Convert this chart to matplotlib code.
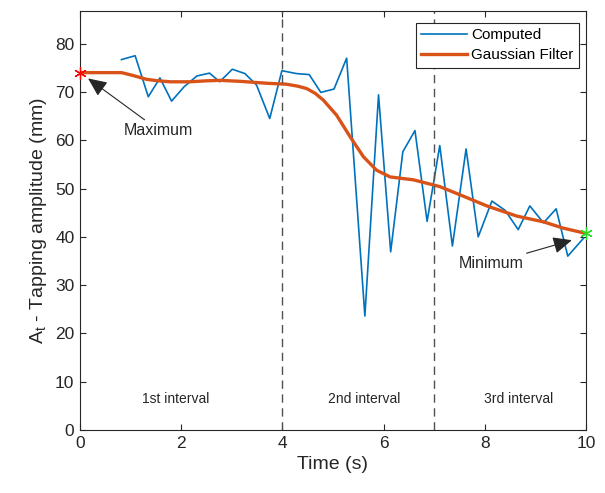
import matplotlib.pyplot as plt

plt.rcParams['font.family'] = ['Liberation Sans', 'DejaVu Sans']
plt.rcParams['mathtext.fontset'] = 'custom'
plt.rcParams['mathtext.rm'] = 'Liberation Sans'
plt.rcParams['mathtext.it'] = 'Liberation Sans'

# computed tapping amplitude
time_computed = [0.82, 1.09, 1.35, 1.58, 1.81, 2.06, 2.31, 2.56, 2.76, 3.01, 3.26, 3.49,
                 3.75, 3.99, 4.28, 4.53, 4.76, 5.02, 5.27, 5.63, 5.90, 6.14, 6.38, 6.62,
                 6.86, 7.11, 7.36, 7.63, 7.87, 8.14, 8.40, 8.66, 8.89, 9.16, 9.41, 9.64, 9.95]
amp_computed = [76.7, 77.5, 69.0, 72.9, 68.1, 71.1, 73.3, 73.9, 72.1, 74.7, 73.8, 71.4,
                64.5, 74.4, 73.8, 73.6, 69.9, 70.6, 77.0, 23.6, 69.4, 36.9, 57.6, 62.0,
                43.2, 58.9, 38.1, 58.2, 40.0, 47.4, 45.5, 41.5, 46.4, 42.9, 45.8, 36.0, 39.7]

# gaussian filtered curve
time_filter = [0.0, 0.82, 1.05, 1.32, 1.55, 1.78, 2.17, 2.5, 2.77, 3.16, 3.69, 4.08,
               4.3, 4.48, 4.65, 4.81, 5.07, 5.34, 5.6, 5.86, 6.13, 6.59, 6.85, 7.11,
               7.51, 8.04, 8.63, 9.16, 9.55, 10.0]
amp_filter = [74.0, 74.0, 73.4, 72.6, 72.3, 72.1, 72.1, 72.3, 72.4, 72.2, 71.8, 71.6,
              71.2, 70.7, 69.7, 68.3, 65.2, 60.7, 56.6, 53.8, 52.4, 51.8, 51.1, 50.4,
              48.7, 46.4, 44.3, 43.1, 41.8, 40.7]

max_point = (0.0, 74.0)
min_point = (10.0, 40.7)
boundaries = [4, 7]
interval_labels = ['1st interval', '2nd interval', '3rd interval']
interval_x = [1.9, 5.61, 8.66]

blue = '#0072BD'
orange = '#D95319'
txt = '#262626'

fig = plt.figure(figsize=(6.05, 4.93), dpi=100)
ax = fig.add_axes([0.1322, 0.1278, 0.8364, 0.8493])

ax.plot(time_computed, amp_computed, color=blue, lw=1.2, label='Computed')
ax.plot(time_filter, amp_filter, color=orange, lw=2.4, label='Gaussian Filter')

for b in boundaries:
    ax.axvline(b, color='#505050', lw=1.0, ls=(0, (6, 4)))

ax.plot(*max_point, marker=(6, 2, 0), color='red', ms=9, mew=0.9, ls='none', clip_on=False, zorder=5)
ax.plot(*min_point, marker=(6, 2, 0), color='#22dd22', ms=9, mew=0.9, ls='none', clip_on=False, zorder=5)

arrow = dict(arrowstyle='-|>,head_length=1.0,head_width=0.45', color='#262626', lw=0.8,
             shrinkA=0, shrinkB=0)
ax.annotate('Maximum', xy=(0.16, 72.8), xytext=(0.87, 62.1), fontsize=11.5, color=txt,
            va='center', ha='left', arrowprops=arrow)
ax.annotate('Minimum', xy=(9.72, 39.3), xytext=(8.77, 34.5), fontsize=11.5, color=txt,
            va='center', ha='right', arrowprops=arrow)

for lab, x in zip(interval_labels, interval_x):
    ax.text(x, 6.5, lab, ha='center', va='center', fontsize=10, color=txt)

ax.set_xlim(0, 10)
ax.set_ylim(0, 86.7)
ax.set_xticks(range(0, 11, 2))
ax.set_yticks(range(0, 81, 10))
ax.tick_params(direction='in', top=True, right=True, length=4, width=0.8,
               labelsize=12.5, colors=txt, pad=4)
for s in ax.spines.values():
    s.set_color(txt)
    s.set_linewidth(0.8)

ax.set_xlabel('Time (s)', fontsize=14, color=txt)
ax.set_ylabel(r'A$_\mathregular{t}$ - Tapping amplitude (mm)', fontsize=14, color=txt)

leg = ax.legend(loc='upper right', bbox_to_anchor=(0.9955, 0.983), fontsize=11,
                fancybox=False, framealpha=1, edgecolor=txt, handlelength=3.0,
                handletextpad=0.3, borderpad=0.35, labelspacing=0.4, borderaxespad=0.3)
leg.get_frame().set_linewidth(0.8)

fig.savefig('out.png', dpi=100)
